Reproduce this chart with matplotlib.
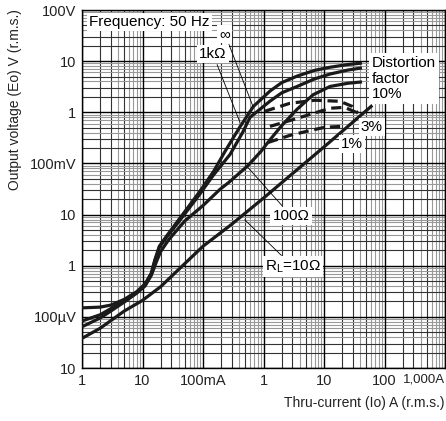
import matplotlib
matplotlib.use("Agg")
import matplotlib.pyplot as plt
import numpy as np

plt.rcParams['font.family'] = ['Liberation Sans', 'DejaVu Sans']
plt.rcParams['mathtext.fontset'] = 'custom'
plt.rcParams['mathtext.rm'] = 'Liberation Sans'

# thru-current (A) and output voltage (V)
inf_i = [0.001, 0.002, 0.003, 0.005, 0.008, 0.011, 0.014, 0.016, 0.019, 0.025, 0.04,
         0.086, 0.15, 0.23, 0.4, 0.68, 1.28, 2, 3.6, 7, 12.6, 25, 40]
inf_v = [1.5e-4, 1.55e-4, 1.7e-4, 2.2e-4, 3.1e-4, 4.4e-4, 7.2e-4, 1.3e-3, 2.4e-3, 3.8e-3, 8e-3,
         0.027, 0.07, 0.17, 0.5, 1.3, 2.6, 3.8, 5.1, 6.6, 7.6, 8.6, 9.1]

k1_i = [0.001, 0.002, 0.003, 0.005, 0.008, 0.011, 0.014, 0.016, 0.019, 0.025, 0.04,
        0.086, 0.15, 0.28, 0.45, 0.6, 1.28, 2, 3.6, 7, 12.6, 25, 40]
k1_v = [8.3e-5, 1.1e-4, 1.45e-4, 2.05e-4, 3e-4, 4.2e-4, 7e-4, 1.25e-3, 2.3e-3, 3.6e-3, 7.3e-3,
        0.024, 0.06, 0.15, 0.4, 0.8, 1.65, 2.4, 3.2, 4.5, 5.6, 6.7, 7.3]

r100_i = [0.001, 0.002, 0.003, 0.005, 0.008, 0.011, 0.014, 0.017, 0.02, 0.027, 0.05,
          0.1, 0.19, 0.27, 0.55, 0.9, 1.28, 2, 3.6, 6.6, 12.6, 25, 40]
r100_v = [6.4e-5, 9.5e-5, 1.3e-4, 1.95e-4, 2.9e-4, 4e-4, 6.5e-4, 1.2e-3, 1.9e-3, 3.2e-3, 7.5e-3,
          0.015, 0.031, 0.043, 0.09, 0.17, 0.29, 0.55, 1.15, 2.2, 3.2, 3.7, 3.9]

r10_i = [0.001, 0.002, 0.005, 0.01, 0.02, 0.05, 0.1, 0.3, 1, 10, 60]
r10_v = [3.8e-5, 6e-5, 1.3e-4, 2.1e-4, 3.9e-4, 1.1e-3, 2.4e-3, 6.5e-3, 0.021, 0.21, 1.3]

# distortion factor lines
d10_i = [1.06, 2.74, 7.1, 18.4, 29, 36.5]
d10_v = [1.05, 1.5, 1.72, 1.64, 1.31, 0.95]
d3_i = [1.28, 2.74, 5.9, 12.6, 22, 33.8]
d3_v = [0.53, 0.69, 0.91, 1.2, 1.25, 1.0]
d1_i = [1.19, 2.74, 5.9, 10.4, 19.9]
d1_v = [0.257, 0.354, 0.44, 0.51, 0.53]

x_ticks = [1e-3, 1e-2, 1e-1, 1, 10, 100, 1000]
x_labels = ['1', '10', '100mA', '1', '10', '100', '1,000A']
y_ticks = [1e-5, 1e-4, 1e-3, 1e-2, 1e-1, 1, 10, 100]
y_labels = ['10', '100µV', '1', '10', '100mV', '1', '10', '100V']

fig = plt.figure(figsize=(4.46, 4.21), dpi=100)
ax = fig.add_axes([82/446, 53/421, 363/446, 358/421])
ax.set_xscale('log')
ax.set_yscale('log')
ax.set_xlim(1e-3, 1e3)
ax.set_ylim(1e-5, 1e2)

# log paper grid
for d in [1e-3, 1e-2, 1e-1, 1, 10, 100]:
    for m in range(2, 10):
        c = '#333333' if m in (2, 3, 5) else '#999999'
        ax.axvline(d*m, color=c, lw=0.8, zorder=1)
for d in [1e-5, 1e-4, 1e-3, 1e-2, 1e-1, 1, 10]:
    for m in range(2, 10):
        c = '#333333' if m in (2, 3, 5) else '#999999'
        ax.axhline(d*m, color=c, lw=0.8, zorder=1)
for t in x_ticks:
    ax.axvline(t, color='black', lw=1.0, zorder=1)
for t in y_ticks:
    ax.axhline(t, color='black', lw=1.0, zorder=1)

lc = '#1a1a1a'
ax.plot(inf_i, inf_v, color=lc, lw=2.3, zorder=3)
ax.plot(k1_i, k1_v, color=lc, lw=2.3, zorder=3)
ax.plot(r100_i, r100_v, color=lc, lw=2.3, zorder=3)
ax.plot(r10_i, r10_v, color=lc, lw=2.3, zorder=3)
for xi, yi in [(d10_i, d10_v), (d3_i, d3_v), (d1_i, d1_v)]:
    ax.plot(xi, yi, color=lc, lw=2.3, ls=(0, (3.2, 1.8)), zorder=3)

ax.set_xticks(x_ticks)
ax.set_xticklabels(x_labels)
ax.set_yticks(y_ticks)
ax.set_yticklabels(y_labels)
ax.minorticks_off()
ax.tick_params(length=0, labelsize=10.5, colors='#222222', pad=4)
last = ax.get_xticklabels()[-1]
last.set_ha('right')
last.set_fontsize(9.5)
for s in ax.spines.values():
    s.set_color('black')
    s.set_linewidth(1.0)

fs = 11
box = dict(facecolor='white', edgecolor='none', pad=1.5)
ax.text(1.3e-3, 58, 'Frequency: 50 Hz', fontsize=fs, va='center', ha='left', bbox=box, zorder=5)
ax.text(62, 12.5, 'Distortion\nfactor\n10%', fontsize=fs, va='top', ha='left',
        linespacing=1.15, bbox=dict(facecolor='white', edgecolor='none', pad=2), zorder=5)
ax.text(62, 0.51, '3%', fontsize=fs, va='center', ha='center', bbox=box, zorder=5)
ax.text(29, 0.236, '1%', fontsize=fs, va='center', ha='center', bbox=box, zorder=5)

arrow = dict(arrowstyle='-', color='black', lw=0.6, shrinkA=1, shrinkB=0)
ax.annotate('∞', xy=(0.67, 1.3), xytext=(0.23, 34), fontsize=fs, ha='center', va='center',
            bbox=box, arrowprops=arrow, zorder=5)
ax.annotate('1kΩ', xy=(0.41, 0.63), xytext=(0.146, 13.7), fontsize=fs, ha='center', va='center',
            bbox=box, arrowprops=arrow, zorder=5)
ax.annotate('100Ω', xy=(0.555, 0.083), xytext=(2.85, 9.5e-3), fontsize=fs, ha='center', va='center',
            bbox=box, arrowprops=arrow, zorder=5)
ax.annotate(r'R$_\mathregular{L}$=10Ω', xy=(0.49, 7.9e-3), xytext=(3.1, 9.5e-4), fontsize=fs,
            ha='center', va='center', bbox=box, arrowprops=arrow, zorder=5)

fig.text(15/446, 1 - 9/421, 'Output voltage (Eo) V (r.m.s.)', rotation=90, fontsize=10,
         ha='center', va='top', color='#222222')
fig.text(445/446, 1 - 403/421, 'Thru-current (Io) A (r.m.s.)', fontsize=10,
         ha='right', va='center', color='#222222')

fig.savefig('out.png', dpi=100)
